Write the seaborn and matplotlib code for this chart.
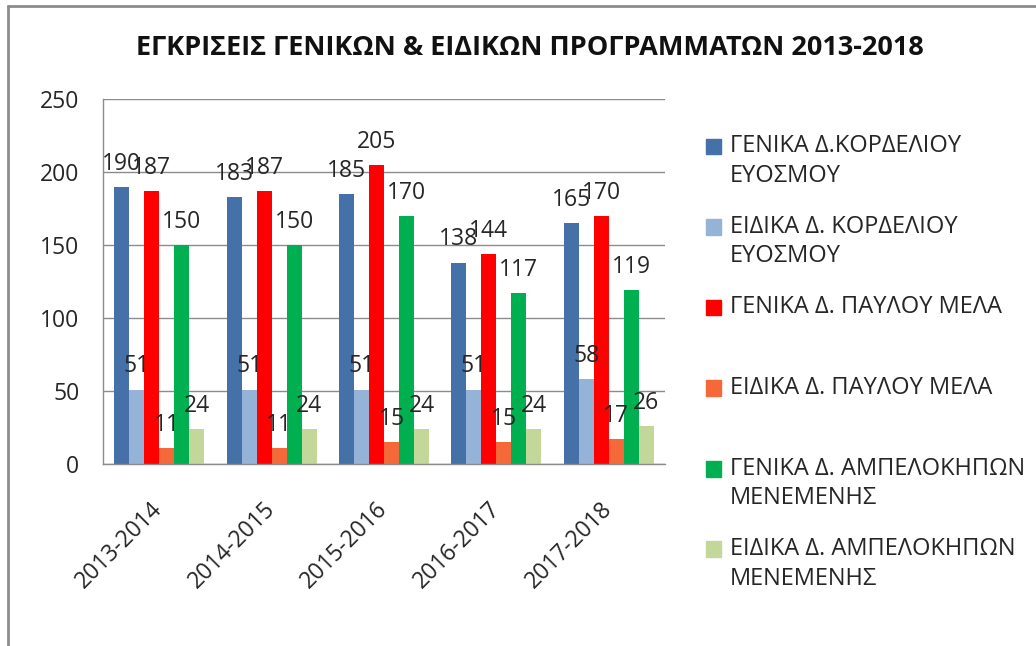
import pandas as pd
import matplotlib
matplotlib.use("Agg")
import matplotlib.pyplot as plt
import matplotlib.patches as mpatches
from matplotlib.legend_handler import HandlerPatch
from matplotlib.lines import Line2D
import seaborn as sns

# --- data ---
years = ["2013-2014", "2014-2015", "2015-2016", "2016-2017", "2017-2018"]
series_names = [
    "ΓΕΝΙΚΑ Δ.ΚΟΡΔΕΛΙΟΥ ΕΥΟΣΜΟΥ",
    "ΕΙΔΙΚΑ Δ. ΚΟΡΔΕΛΙΟΥ ΕΥΟΣΜΟΥ",
    "ΓΕΝΙΚΑ Δ. ΠΑΥΛΟΥ ΜΕΛΑ",
    "ΕΙΔΙΚΑ Δ. ΠΑΥΛΟΥ ΜΕΛΑ",
    "ΓΕΝΙΚΑ Δ. ΑΜΠΕΛΟΚΗΠΩΝ ΜΕΝΕΜΕΝΗΣ",
    "ΕΙΔΙΚΑ Δ. ΑΜΠΕΛΟΚΗΠΩΝ ΜΕΝΕΜΕΝΗΣ",
]
legend_labels = [
    "ΓΕΝΙΚΑ Δ.ΚΟΡΔΕΛΙΟΥ\nΕΥΟΣΜΟΥ",
    "ΕΙΔΙΚΑ Δ. ΚΟΡΔΕΛΙΟΥ\nΕΥΟΣΜΟΥ",
    "ΓΕΝΙΚΑ Δ. ΠΑΥΛΟΥ ΜΕΛΑ\n ",
    "ΕΙΔΙΚΑ Δ. ΠΑΥΛΟΥ ΜΕΛΑ\n ",
    "ΓΕΝΙΚΑ Δ. ΑΜΠΕΛΟΚΗΠΩΝ\nΜΕΝΕΜΕΝΗΣ",
    "ΕΙΔΙΚΑ Δ. ΑΜΠΕΛΟΚΗΠΩΝ\nΜΕΝΕΜΕΝΗΣ",
]
genika_kordeliou = [190, 183, 185, 138, 165]
eidika_kordeliou = [51, 51, 51, 51, 58]
genika_pavlou = [187, 187, 205, 144, 170]
eidika_pavlou = [11, 11, 15, 15, 17]
genika_ampelokipon = [150, 150, 170, 117, 119]
eidika_ampelokipon = [24, 24, 24, 24, 26]
colors = ["#4571A8", "#95B3D7", "#FF0000", "#F4683A", "#00B050", "#C4D79B"]

# --- long-form table for seaborn ---
all_series = [genika_kordeliou, eidika_kordeliou, genika_pavlou,
              eidika_pavlou, genika_ampelokipon, eidika_ampelokipon]
rows = []
for name, vals in zip(series_names, all_series):
    for yr, v in zip(years, vals):
        rows.append({"Year": yr, "Series": name, "Value": v})
df = pd.DataFrame(rows)

sns.set_style("white")
plt.rcParams["font.family"] = ["Open Sans", "DejaVu Sans"]
text_col = "#262626"
grid_col = "#8C8C8C"
fs = 16.5

fig = plt.figure(figsize=(10.36, 6.46), dpi=100)
ax = fig.add_axes([0.0994, 0.2817, 0.5425, 0.565])

sns.barplot(data=df, x="Year", y="Value", hue="Series", hue_order=series_names,
            palette=colors, width=0.8, saturation=1, legend=False, ax=ax,
            edgecolor="none", linewidth=0)

for cont in ax.containers:
    ax.bar_label(cont, padding=8, fontsize=fs, color=text_col, zorder=10)

ax.set_ylim(0, 250)
ax.set_yticks(range(0, 251, 50))
ax.set_xlim(-0.5, 4.5)
ax.yaxis.grid(True, color=grid_col, linewidth=1)
ax.set_axisbelow(True)
ax.set_xlabel("")
ax.set_ylabel("")
for side in ["top", "right"]:
    ax.spines[side].set_visible(False)
for side in ["left", "bottom"]:
    ax.spines[side].set_color(grid_col)
    ax.spines[side].set_linewidth(1)
ax.tick_params(axis="y", length=0, pad=17, labelsize=fs, labelcolor=text_col)
ax.tick_params(axis="x", length=0, pad=30, labelsize=fs, labelcolor=text_col)
for lbl in ax.get_xticklabels():
    lbl.set_rotation(45)
    lbl.set_ha("right")
    lbl.set_va("center")
    lbl.set_rotation_mode("anchor")

fig.text(0.5116, 0.926, "ΕΓΚΡΙΣΕΙΣ ΓΕΝΙΚΩΝ & ΕΙΔΙΚΩΝ ΠΡΟΓΡΑΜΜΑΤΩΝ 2013-2018",
         ha="center", va="center", fontsize=19.5, fontweight="bold", color="#111111")


# legend squares sit on the first text line
def top_square(legend, orig_handle, xdescent, ydescent, width, height, fontsize):
    return mpatches.Rectangle((-xdescent, -ydescent + 11), width, height)


handles = [mpatches.Patch(color=c) for c in colors]
leg = fig.legend(handles, legend_labels, loc="upper left", bbox_to_anchor=(0.681, 0.792),
                 frameon=False, fontsize=17, handlelength=0.65, handleheight=0.65,
                 handletextpad=0.38, labelspacing=1.15, borderpad=0, borderaxespad=0,
                 labelcolor=text_col,
                 handler_map={mpatches.Patch: HandlerPatch(patch_func=top_square)})
for t in leg.get_texts():
    t.set_linespacing(1.3)

# outer chart frame (top and left edges visible)
fig.add_artist(Line2D([0.0077, 0.0077], [0, 0.991], color="#8C8C8C", linewidth=2,
                      transform=fig.transFigure))
fig.add_artist(Line2D([0.0077, 1.0], [0.991, 0.991], color="#8C8C8C", linewidth=2,
                      transform=fig.transFigure))

fig.savefig("out.png", dpi=100)
